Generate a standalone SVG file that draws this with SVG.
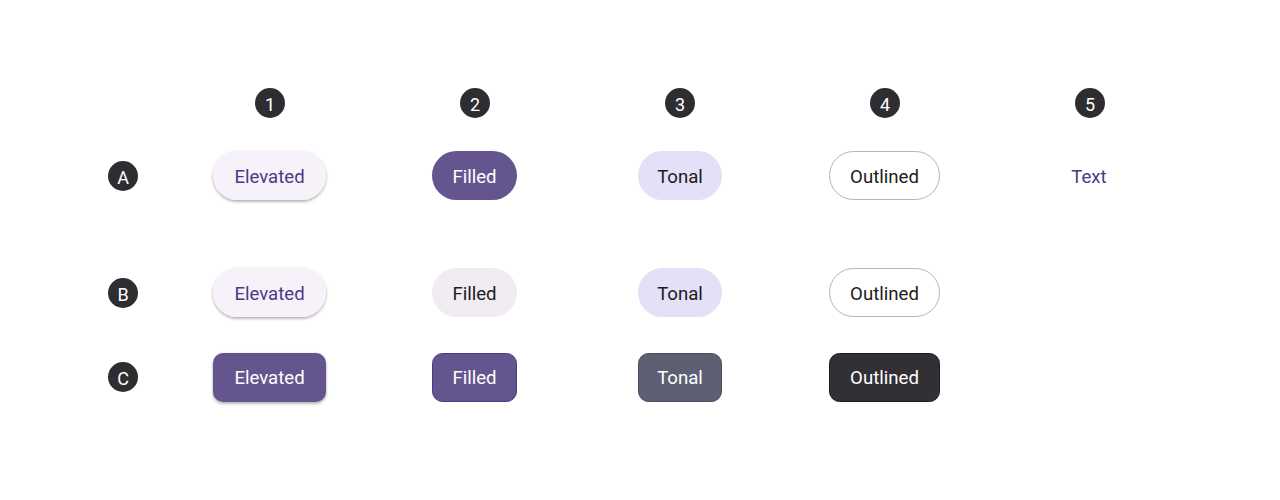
<svg xmlns="http://www.w3.org/2000/svg" width="1280" height="500" viewBox="0 0 1280 500">
<defs>
<filter id="sh" x="-20%" y="-30%" width="140%" height="180%">
<feDropShadow dx="0" dy="1.5" stdDeviation="1.5" flood-color="#000" flood-opacity="0.35"/>
</filter>
<style>
.t{font-family:Roboto,"Liberation Sans",sans-serif;font-size:18.6px;text-anchor:middle;dominant-baseline:central}
.bt{font-family:Roboto,"Liberation Sans",sans-serif;font-size:18px;text-anchor:middle;dominant-baseline:central;fill:#fff}
.badge{fill:#2e2d31}
</style>
</defs>
<rect width="1280" height="500" fill="#fff"/>
<g id="col1"><circle class="badge" cx="270" cy="103" r="15"/><text class="bt" x="270" y="104">1</text></g>
<g id="col2"><circle class="badge" cx="475" cy="103" r="15"/><text class="bt" x="475" y="104">2</text></g>
<g id="col3"><circle class="badge" cx="680" cy="103" r="15"/><text class="bt" x="680" y="104">3</text></g>
<g id="col4"><circle class="badge" cx="885" cy="103" r="15"/><text class="bt" x="885" y="104">4</text></g>
<g id="col5"><circle class="badge" cx="1090" cy="103" r="15"/><text class="bt" x="1090" y="104">5</text></g>
<g id="rowA"><circle class="badge" cx="123" cy="176" r="15"/><text class="bt" x="123" y="177">A</text></g>
<g id="rowB"><circle class="badge" cx="123" cy="293" r="15"/><text class="bt" x="123" y="294">B</text></g>
<g id="rowC"><circle class="badge" cx="123" cy="377" r="15"/><text class="bt" x="123" y="378">C</text></g>

<g id="A1"><rect x="213" y="151" width="113" height="49" rx="24.5" fill="#f7f2fa" filter="url(#sh)"/><text class="t" x="269.5" y="177" fill="#4a3a86">Elevated</text></g>
<g id="A2"><rect x="432" y="151" width="85" height="49" rx="24.5" fill="#65558f"/><text class="t" x="474.5" y="177" fill="#fff">Filled</text></g>
<g id="A3"><rect x="638" y="151" width="84" height="49" rx="24.5" fill="#e3e0f8"/><text class="t" x="680" y="177" fill="#1d1b20">Tonal</text></g>
<g id="A4"><rect x="829.5" y="151.5" width="110" height="48" rx="24" fill="#fff" stroke="#b6b2ba" stroke-width="1"/><text class="t" x="884.5" y="177" fill="#1d1b20">Outlined</text></g>
<g id="A5"><text class="t" x="1089" y="177" fill="#4a3a86">Text</text></g>

<g id="B1"><rect x="213" y="268" width="113" height="49" rx="24.5" fill="#f7f2fa" filter="url(#sh)"/><text class="t" x="269.5" y="293.5" fill="#4a3a86">Elevated</text></g>
<g id="B2"><rect x="432" y="268" width="85" height="49" rx="24.5" fill="#f1ecf2"/><text class="t" x="474.5" y="293.5" fill="#1d1b20">Filled</text></g>
<g id="B3"><rect x="638" y="268" width="84" height="49" rx="24.5" fill="#e3e0f8"/><text class="t" x="680" y="293.5" fill="#1d1b20">Tonal</text></g>
<g id="B4"><rect x="829.5" y="268.5" width="110" height="48" rx="24" fill="#fff" stroke="#b6b2ba" stroke-width="1"/><text class="t" x="884.5" y="293.5" fill="#1d1b20">Outlined</text></g>

<g id="C1"><rect x="213" y="353" width="113" height="49" rx="10" fill="#65558f" filter="url(#sh)"/><text class="t" x="269.5" y="378" fill="#fff">Elevated</text></g>
<g id="C2"><rect x="432.5" y="353.5" width="84" height="48" rx="10" fill="#65558f" stroke="#4a3a86" stroke-width="1"/><text class="t" x="474.5" y="378" fill="#fff">Filled</text></g>
<g id="C3"><rect x="638.5" y="353.5" width="83" height="48" rx="10" fill="#5d5f72" stroke="#4a4b5c" stroke-width="1"/><text class="t" x="680" y="378" fill="#fff">Tonal</text></g>
<g id="C4"><rect x="829.5" y="353.5" width="110" height="48" rx="10" fill="#322f35" stroke="#1d1b20" stroke-width="1"/><text class="t" x="884.5" y="378" fill="#fff">Outlined</text></g>
<g id="connectors"/>
</svg>
